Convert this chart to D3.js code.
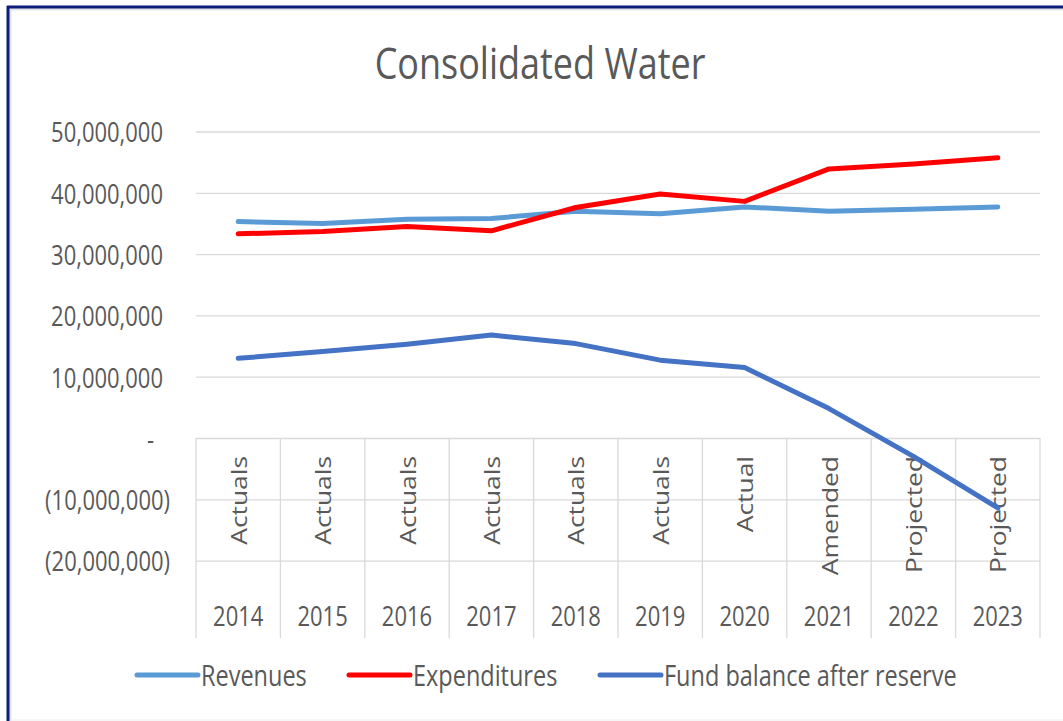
<!DOCTYPE html>
<html>
<head>
<meta charset="utf-8">
<script src="https://cdn.jsdelivr.net/npm/d3@7"></script>
<style>
  html, body { margin: 0; padding: 0; background: #fff; }
  svg text { font-family: "Open Sans", "Noto Sans", sans-serif; fill: #595959; }
</style>
</head>
<body>
<svg id="chart"></svg>
<script>
let width = 1063
let height = 721

let years = ['2014','2015','2016','2017','2018','2019','2020','2021','2022','2023']
let stages = ['Actuals','Actuals','Actuals','Actuals','Actuals','Actuals','Actual','Amended','Projected','Projected']

let revenues = [35300000,35000000,35700000,35800000,37000000,36600000,37700000,37000000,37300000,37700000]
let expenditures = [33300000,33700000,34500000,33800000,37600000,39800000,38600000,43900000,44700000,45700000]
let fundBalance = [13000000,14100000,15300000,16800000,15400000,12700000,11500000,4800000,-3000000,-11400000]

let seriesNames = ['Revenues','Expenditures','Fund balance after reserve']
let seriesColors = ['#5B9BD5','#FF0000','#4472C4']
let yTicks = [-20000000,-10000000,0,10000000,20000000,30000000,40000000,50000000]

// the screenshot is a bit taller than wide, text gets stretched the same way
let stretch = 1.2

let svg = d3.select('#chart')
    .attr('width', width)
    .attr('height', height)

// frame like the screenshot
svg.append('rect').attr('x',0).attr('y',0).attr('width',width).attr('height',height).attr('fill','#fff')
svg.append('line').attr('x1',8).attr('x2',width).attr('y1',9).attr('y2',9).attr('stroke','#E3E3E3').attr('stroke-width',3)
svg.append('line').attr('x1',10).attr('x2',10).attr('y1',8).attr('y2',height).attr('stroke','#E3E3E3').attr('stroke-width',3)
svg.append('line').attr('x1',7).attr('x2',width).attr('y1',7).attr('y2',7).attr('stroke','#0D1D7A').attr('stroke-width',3)
svg.append('line').attr('x1',8).attr('x2',8).attr('y1',6).attr('y2',height).attr('stroke','#0D1D7A').attr('stroke-width',3)
svg.append('line').attr('x1',10).attr('x2',width).attr('y1',720).attr('y2',720).attr('stroke','#EEEEEE').attr('stroke-width',1)

let left = 196
let right = 1040

let xScale = d3.scaleBand()
    .domain(years)
    .range([left, right])

let yScale = d3.scaleLinear()
    .domain([-20000000, 50000000])
    .range([560.6, 131.5])

// title
svg.append('text')
   .attr('transform','translate(540,63) scale(1,' + stretch + ')')
   .attr('text-anchor','middle')
   .attr('dominant-baseline','central')
   .style('font-size','36px')
   .text('Consolidated Water')

// gridlines + value labels
let fmt = d3.format(',')
let yAxis = d3.axisLeft(yScale)
    .tickValues(yTicks)
    .tickSize(-(right-left))
    .tickFormat(d => d === 0 ? '-' : (d < 0 ? '(' + fmt(-d) + ')' : fmt(d)))

let gy = svg.append('g')
   .attr('transform','translate(' + left + ',0)')
   .call(yAxis)
gy.select('.domain').remove()
gy.selectAll('.tick line').attr('stroke','#D9D9D9').attr('stroke-width',1.3)
gy.selectAll('.tick text')
  .attr('x', d => d === 0 ? -42 : (d < 0 ? -26 : -33))
  .attr('dy', null)
  .attr('dominant-baseline','central')
  .attr('transform','scale(1,' + stretch + ')')
  .style('font-size','22px')
  .style('fill','#595959')

// category table lines
let bounds = years.map(y => xScale(y)).concat([right])
svg.append('g').selectAll('line')
   .data(bounds)
   .enter()
   .append('line')
   .attr('x1', d => d)
   .attr('x2', d => d)
   .attr('y1', yScale(0))
   .attr('y2', 638)
   .attr('stroke','#D9D9D9')
   .attr('stroke-width',1.3)

// stage labels, rotated
svg.append('g').selectAll('text')
   .data(stages)
   .enter()
   .append('text')
   .attr('transform', (d,i) => 'translate(' + (xScale(years[i]) + xScale.bandwidth()/2) + ',456) rotate(-90) scale(' + stretch + ',1)')
   .attr('text-anchor','end')
   .attr('dominant-baseline','central')
   .style('font-size','22px')
   .text(d => d)

// year labels
svg.append('g').selectAll('text')
   .data(years)
   .enter()
   .append('text')
   .attr('transform', d => 'translate(' + (xScale(d) + xScale.bandwidth()/2) + ',616) scale(1,' + stretch + ')')
   .attr('text-anchor','middle')
   .attr('dominant-baseline','central')
   .style('font-size','22px')
   .text(d => d)

// lines
let allSeries = [revenues, expenditures, fundBalance]
let line = d3.line()
    .x((d,i) => xScale(years[i]) + xScale.bandwidth()/2)
    .y(d => yScale(d))

svg.append('g').selectAll('path')
   .data(allSeries)
   .enter()
   .append('path')
   .attr('d', d => line(d))
   .attr('fill','none')
   .attr('stroke', (d,i) => seriesColors[i])
   .attr('stroke-width',5)
   .attr('stroke-linecap','round')
   .attr('stroke-linejoin','round')

// legend
let legendX = [137, 349, 600]
let legend = svg.append('g').selectAll('g')
   .data(seriesNames)
   .enter()
   .append('g')
   .attr('transform', (d,i) => 'translate(' + legendX[i] + ',675)')
legend.append('line')
   .attr('x1',0).attr('x2',61)
   .attr('y1',0).attr('y2',0)
   .attr('stroke', (d,i) => seriesColors[i])
   .attr('stroke-width',5)
   .attr('stroke-linecap','round')
legend.append('text')
   .attr('transform','translate(64,0) scale(1,' + stretch + ')')
   .attr('dominant-baseline','central')
   .style('font-size','23.5px')
   .text(d => d)
</script>
</body>
</html>
